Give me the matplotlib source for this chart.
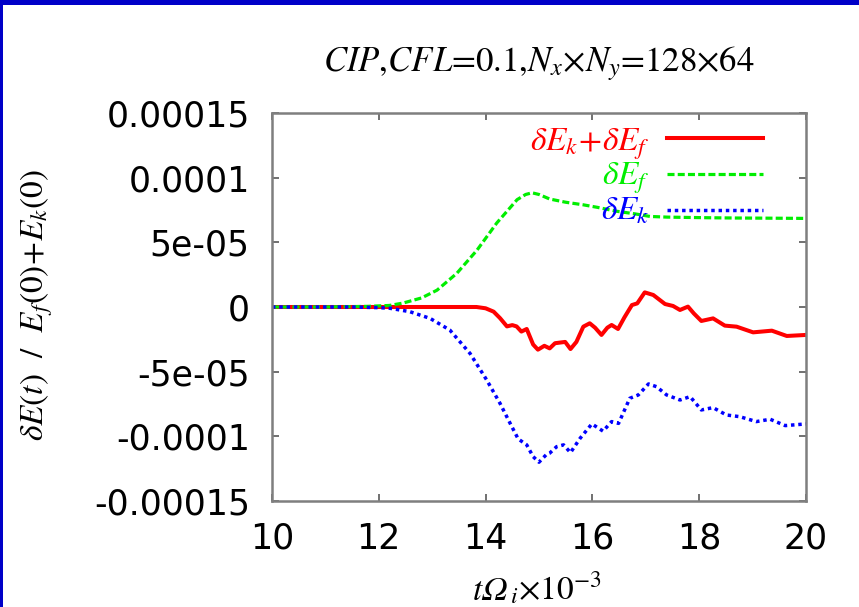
import numpy as np
import matplotlib
matplotlib.use("Agg")
import matplotlib.pyplot as plt
from matplotlib.patches import Rectangle
from matplotlib.lines import Line2D

plt.rcParams["mathtext.fontset"] = "stix"

# time axis (t * Omega_i, in units of 1e3) and energy changes (units of 1e-5)
t_total = [10, 13.0, 13.83, 14.0, 14.15, 14.27, 14.4, 14.5, 14.58, 14.67, 14.77,
           14.89, 14.98, 15.1, 15.2, 15.3, 15.49, 15.59, 15.7, 15.83, 15.95,
           16.05, 16.17, 16.28, 16.36, 16.48, 16.6, 16.74, 16.84, 16.98, 17.14,
           17.36, 17.51, 17.64, 17.79, 17.9, 18.04, 18.26, 18.48, 18.7, 19.01,
           19.36, 19.64, 20]
dE_total = [0, 0, 0, -0.1, -0.36, -0.86, -1.5, -1.4, -1.5, -1.9, -1.7,
            -2.9, -3.3, -3.0, -3.2, -2.8, -2.7, -3.25, -2.7, -1.52, -1.26,
            -1.6, -2.16, -1.6, -1.39, -1.7, -0.8, 0.15, 0.28, 1.13, 0.93,
            0.23, 0.08, -0.23, 0.03, -0.5, -1.08, -0.88, -1.44, -1.52, -1.96,
            -1.83, -2.24, -2.16]

t_field = [10, 11, 11.8, 12.2, 12.45, 12.8, 13.09, 13.46, 13.84, 14.21, 14.59,
           14.75, 14.87, 15.0, 15.2, 15.5, 15.83, 16.1, 16.46, 16.8, 17.08,
           17.4, 17.7, 18.2, 18.7, 19.2, 19.6, 20]
dE_field = [0, 0, 0.05, 0.12, 0.3, 0.7, 1.3, 2.6, 4.4, 6.5, 8.3,
            8.7, 8.83, 8.7, 8.35, 8.1, 7.9, 7.7, 7.4, 7.2, 7.0,
            6.95, 6.93, 6.9, 6.88, 6.87, 6.86, 6.85]

t_kin = [10, 11.5, 12.0, 12.21, 12.58, 12.96, 13.33, 13.71, 14.02, 14.27, 14.46,
         14.61, 14.77, 14.89, 15.0, 15.14, 15.2, 15.33, 15.46, 15.59, 15.77,
         15.99, 16.2, 16.36, 16.49, 16.7, 16.86, 17.05, 17.2, 17.39, 17.64,
         17.83, 18.04, 18.26, 18.51, 18.76, 19.07, 19.33, 19.61, 20]
dE_kin = [0, 0, -0.05, -0.1, -0.36, -0.88, -1.78, -3.6, -5.64, -7.45, -9.0,
          -10.2, -10.66, -11.57, -12.0, -11.4, -11.3, -10.8, -10.66, -11.26, -10.15,
          -9.04, -9.6, -8.86, -9.0, -7.06, -6.8, -5.95, -6.16, -6.8, -7.19,
          -6.93, -7.96, -7.78, -8.35, -8.48, -8.86, -8.68, -9.17, -9.04]

x_ticks = [10, 12, 14, 16, 18, 20]
y_ticks = [1.5e-4, 1e-4, 5e-5, 0, -5e-5, -1e-4, -1.5e-4]
y_tick_labels = ["0.00015", "0.0001", "5e-05", "0", "-5e-05", "-0.0001", "-0.00015"]

labels = [r"$\delta E_k\!+\!\delta E_f$", r"$\delta E_f$", r"$\delta E_k$"]
colors = ["#ff0000", "#00ee00", "#0000ff"]

W, H = 859, 607
fig = plt.figure(figsize=(W / 100, H / 100), dpi=100)
fig.patch.set_facecolor("white")

# slide frame: blue bars on top and left
fig.add_artist(Rectangle((0, 1 - 5 / H), 1, 5 / H, transform=fig.transFigure,
                         color="#0000c8", lw=0))
fig.add_artist(Rectangle((0, 0), 3 / W, 1, transform=fig.transFigure,
                         color="#0000c8", lw=0))

L, R, T, B = 272, 806, 113, 501
ax = fig.add_axes([L / W, 1 - B / H, (R - L) / W, (B - T) / H])

styles = [dict(lw=2.9, linestyle="-", solid_joinstyle="round"),
          dict(lw=2.3, linestyle=(0, (2.2, 1.0)), dash_capstyle="butt"),
          dict(lw=2.5, linestyle=(0, (1, 1.1)), dash_capstyle="butt")]

scale = 1e-5
ax.plot(t_total, np.array(dE_total) * scale, color=colors[0], **styles[0])
ax.plot(t_field, np.array(dE_field) * scale, color=colors[1], **styles[1])
ax.plot(t_kin, np.array(dE_kin) * scale, color=colors[2], **styles[2])

ax.set_xlim(10, 20)
ax.set_ylim(-1.5e-4, 1.5e-4)
ax.set_xticks(x_ticks)
ax.set_xticklabels([str(v) for v in x_ticks])
ax.set_yticks(y_ticks)
ax.set_yticklabels(y_tick_labels)

for lab in ax.get_xticklabels() + ax.get_yticklabels():
    lab.set_fontfamily("DejaVu Sans")
    lab.set_fontsize(25)

ax.tick_params(direction="in", length=5, width=1.4, color="#707070",
               top=True, right=True, labelcolor="black")
ax.tick_params(axis="x", pad=15)
ax.tick_params(axis="y", pad=16)
for s in ax.spines.values():
    s.set_color("#7f7f7f")
    s.set_linewidth(1.8)

# key: labels right-aligned, line samples to their right
def ax_x(px):
    return (px - L) / (R - L)

def ax_y(py):
    return (B - py) / (B - T)

key_rows = [(138, 150), (174, 185), (210, 220)]
for lab, col, (ly, ty), sty in zip(labels, colors, key_rows, styles):
    ax.text(ax_x(650), ax_y(ty), lab, transform=ax.transAxes, ha="right",
            va="baseline", color=col, fontsize=24, family="STIXGeneral")
    ax.add_line(Line2D([ax_x(667), ax_x(763)], [ax_y(ly), ax_y(ly)],
                       transform=ax.transAxes, color=col, **sty))

fig.text(539 / W, 1 - 71 / H,
         r"$CIP$,$CFL$=0.1,$N_x$×$N_y$=128×64",
         ha="center", va="baseline", fontsize=25, family="STIXGeneral")

# x label: italic "t", italic "Ω", then subscript and scale factor
xl_base = 1 - 600 / H
fig.text(482 / W, xl_base, "t", ha="right", va="baseline", fontsize=24,
         family="STIXGeneral", style="italic")
fig.text(481 / W, xl_base, "Ω", ha="left", va="baseline", fontsize=24,
         family="STIXGeneral", style="italic")
fig.text(510 / W, xl_base, r"${}_i$×10$^{-3}$", ha="left", va="baseline",
         fontsize=24, family="STIXGeneral")

fig.text(37 / W, 1 - 305 / H,
         r"$\delta E(t)\ \ /\ \ E_f(0)\!+\!E_k(0)$",
         rotation=90, ha="center", va="center", fontsize=24,
         family="STIXGeneral")

fig.savefig("out.png", dpi=100)
